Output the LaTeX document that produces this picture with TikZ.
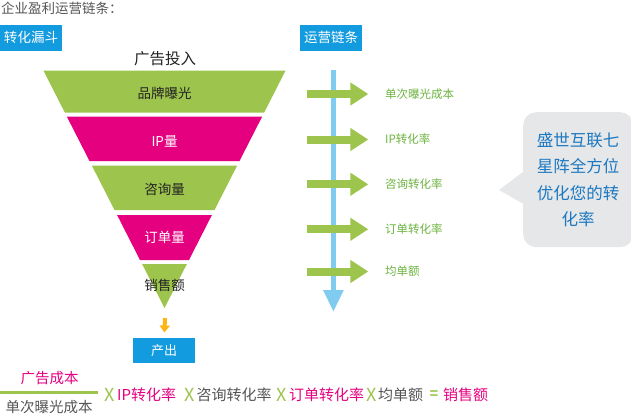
\documentclass[tikz,border=0pt]{standalone}
\usepackage{fontspec}
\setmainfont{Noto Sans CJK SC}
\newfontfamily\latf{Liberation Sans}
\usetikzlibrary{arrows.meta}
\definecolor{fgreen}{HTML}{9DC44D}
\definecolor{fpink}{HTML}{E4007F}
\definecolor{boxblue}{HTML}{139BDF}
\definecolor{lblue}{HTML}{7FCCF0}
\definecolor{aorange}{HTML}{FDB515}
\definecolor{bubgray}{HTML}{E6E7E8}
\definecolor{bubtext}{HTML}{1B78C2}
\definecolor{lgreen}{HTML}{6CB33E}
\definecolor{tgray}{HTML}{555555}
\definecolor{tdark}{HTML}{222222}
\newcommand\fsz[1]{\fontsize{#1}{#1}\selectfont}
\begin{document}
\begin{tikzpicture}[x=1pt,y=-1pt,
  txt/.style={inner sep=0pt},
  tagbox/.style={fill=boxblue, text=white, inner sep=0pt, minimum width=61.5pt, minimum height=25.5pt, font=\fsz{13.5}},
  seglbl/.style={inner sep=0pt, font=\fsz{13.5}},
  chainlbl/.style={inner sep=0pt, anchor=west, text=lgreen, font=\fsz{11.5}},
  garrow/.style={draw=fgreen, line width=8pt, -{Triangle[width=22pt,length=18pt]}},
  fx/.style={inner sep=0pt, anchor=west, font=\fsz{15}},
  fxx/.style={inner sep=0pt, anchor=west, text=fgreen, font=\fsz{18}}
]
\useasboundingbox (0,0) rectangle (631,415);

% title
\node[txt, anchor=west, text=tgray, font=\fsz{13.5}] (title) at (1,8) {企业盈利运营链条：};

% tag boxes
\node[tagbox] (funnelTag) at (31,37.8) {转化漏斗};
\node[tagbox] (chainTag) at (331.2,37.8) {运营链条};

% funnel
\node[txt, text=tdark, font=\fsz{15.5}] (input) at (165,58.5) {广告投入};
\fill[fgreen] (43.4,70.5) -- (285.6,70.5) -- (264.2,112.5) -- (64.8,112.5) -- cycle;
\fill[fpink] (66.8,116.5) -- (262.2,116.5) -- (239.5,161) -- (89.5,161) -- cycle;
\fill[fgreen] (91.8,165.5) -- (237.2,165.5) -- (214.5,210) -- (114.5,210) -- cycle;
\fill[fpink] (117.1,215) -- (211.9,215) -- (189,260) -- (140,260) -- cycle;
\fill[fgreen] (142.1,264) -- (186.9,264) -- (164.5,308) -- cycle;
\node[seglbl, text=tdark] (s1) at (164.5,93.3) {品牌曝光};
\node[seglbl, text=white] (s2) at (164.5,141.5) {IP量};
\node[seglbl, text=tdark] (s3) at (164.5,189.3) {咨询量};
\node[seglbl, text=white] (s4) at (164.5,237.3) {订单量};
\node[seglbl, text=tdark] (s5) at (164.5,285) {销售额};

% output
\coordinate (oaTop) at (165,318);
\node[tagbox, minimum width=62pt, minimum height=25.6pt, font=\fsz{13}] (out) at (164.2,350.5) {产出};
\draw[aorange, line width=4pt, -{Triangle[width=10pt,length=7pt]}, shorten >=5pt] (oaTop) -- (out.north);

% chain
\coordinate (bTop) at (333.4,70);
\coordinate (bBot) at (333.4,312);
\draw[lblue, line width=5.5pt, -{Triangle[width=19pt,length=22pt]}] (bTop) -- (bBot);
\foreach \yy/\nm/\tx in {94/c1/单次曝光成本, 139.5/c2/IP转化率, 184.3/c3/咨询转化率, 229.3/c4/订单转化率, 271.5/c5/均单额}{
  \coordinate (\nm a) at (306.7,\yy);
  \coordinate (\nm b) at (368.3,\yy);
  \draw[garrow] (\nm a) -- (\nm b);
  \node[chainlbl] (\nm) at (385,\yy) {\tx};
}

% bubble
\node[fill=bubgray, rounded corners=13pt, minimum width=110pt, minimum height=135pt, inner sep=0pt,
      text=bubtext, font=\fontsize{16.5}{26.3}\selectfont, align=center, anchor=north west] (bubble) at (523,112)
  {盛世互联七\\星阵全方位\\优化您的转\\化率};
\coordinate (tip) at (499,190);
\fill[bubgray] (523.5,171.5) -- (tip) -- (523.5,204) -- cycle;

% formula
\node[txt, text=fpink, font=\fsz{14.5}] (cost) at (49.5,378) {广告成本};
\coordinate (fl1) at (0,392.5);
\coordinate (fl2) at (98,392.5);
\draw[fgreen, line width=3pt] (fl1) -- (fl2);
\node[txt, text=tgray, font=\fsz{14.5}] (unit) at (49,407) {单次曝光成本};
\node[fxx] (x1) at (104.5,394.5) {X};
\node[fx, text=fpink] (f1) at (117,395) {IP转化率};
\node[fxx] (x2) at (184,394.5) {X};
\node[fx, text=tgray] (f2) at (196.5,395) {咨询转化率};
\node[fxx] (x3) at (276,394.5) {X};
\node[fx, text=fpink] (f3) at (289,395) {订单转化率};
\node[fxx] (x4) at (366,394.5) {X};
\node[fx, text=tgray] (f4) at (378,395) {均单额};
\node[fx, text=fgreen, font=\latf\bfseries\fsz{15}] (eq) at (429.5,395) {=};
\node[fx, text=fpink] (f5) at (443,395) {销售额};
\end{tikzpicture}
\end{document}
